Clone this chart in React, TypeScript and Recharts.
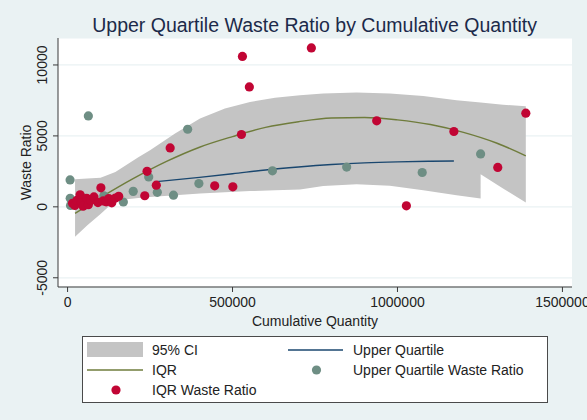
import {
  ComposedChart,
  XAxis,
  YAxis,
  CartesianGrid,
  Area,
  Line,
  Scatter,
} from "recharts";

const FONT = '"Liberation Sans", Arial, Helvetica, sans-serif';

const BG = "#eaf2f3";
const NAVY = "#1a476f";
const OLIVE = "#6f7c3c";
const TEAL = "#6e8e84";
const CRANBERRY = "#c10534";
const BAND = "#c4c4c4";

// IQR waste ratio observations
const iqrQty = [
  530000, 551000, 527000, 311000, 241000, 269000, 234000, 446000, 501000,
  101000, 739000, 937000, 1171000, 1389000, 1304000, 1027000,
  15000, 22000, 28000, 38000, 42000, 47000, 58000, 63000, 70000, 80000,
  92000, 108000, 117000, 125000, 134000, 145000, 155000,
];
const iqrRatio = [
  10600, 8450, 5100, 4150, 2500, 1530, 780, 1480, 1410,
  1340, 11200, 6060, 5310, 6600, 2780, 70,
  250, 100, 450, 850, 300, 50, 600, 150, 450, 700,
  300, 420, 350, 580, 280, 620, 740,
];

// Upper quartile waste ratio observations
const uqQty = [
  63000, 7600, 8000, 9000, 364000, 246000, 199000, 272000, 321000, 398000,
  621000, 169000, 846000, 1075000, 1252000, 48000, 110000,
];
const uqRatio = [
  6410, 1900, 600, 100, 5470, 2110, 1090, 1020, 820, 1640,
  2540, 340, 2800, 2420, 3730, 620, 780,
];

// quadratic fit on IQR sample
const iqrFitQty = [
  22700, 100000, 200000, 300000, 400000, 500000, 600000, 700000, 800000,
  900000, 1000000, 1100000, 1200000, 1300000, 1389000,
];
const iqrFitRatio = [
  -465, 650, 2000, 3200, 4200, 4950, 5600, 6000, 6260,
  6300, 6130, 5800, 5250, 4500, 3600,
];

// fit on upper quartile sample
const uqFitQty = [
  270000, 400000, 500000, 600000, 700000, 800000, 900000, 1000000, 1100000,
  1171000,
];
const uqFitRatio = [1780, 2080, 2330, 2600, 2810, 2980, 3100, 3170, 3210, 3230];

// 95% confidence band (union of both fits)
const ciQty = [
  22700, 60000, 100000, 145000, 214500, 250000, 325800, 401500, 477000,
  553000, 628800, 704500, 775000, 876000, 977000, 1078000, 1179000, 1252000,
  1252000, 1320000, 1389000,
];
const ciLow = [
  -2110, -1300, -500, 450, 620, 700, 820, 940, 1030,
  1110, 1170, 1225, 1460, 1600, 1480, 1175, 825, 590,
  2300, 1295, 310,
];
const ciHigh = [
  1950, 2000, 2050, 2450, 3500, 3990, 5170, 6225, 6930,
  7390, 7680, 7870, 7985, 8060, 7985, 7820, 7515, 7350,
  7350, 7200, 7090,
];

const xTicks = [0, 500000, 1000000, 1500000];
const yTicks = [-5000, 0, 5000, 10000];

const iqrPoints = iqrQty.map((x, i) => ({ x, y: iqrRatio[i] }));
const uqPoints = uqQty.map((x, i) => ({ x, y: uqRatio[i] }));
const iqrFit = iqrFitQty.map((x, i) => ({ x, y: iqrFitRatio[i] }));
const uqFit = uqFitQty.map((x, i) => ({ x, y: uqFitRatio[i] }));
const ciBand = ciQty.map((x, i) => ({ x, band: [ciLow[i], ciHigh[i]] }));

const dot = (color: string) => (props: any) =>
  <circle cx={props.cx} cy={props.cy} r={4.6} fill={color} />;

const YTick = (props: any) => {
  const { x, y, payload } = props;
  const cx = x - 8.5;
  return (
    <text
      x={cx}
      y={y}
      transform={`rotate(-90, ${cx}, ${y})`}
      textAnchor="middle"
      dominantBaseline="central"
      fontSize={14}
      fontFamily={FONT}
      fill="#222"
    >
      {payload.value}
    </text>
  );
};

function LegendBox() {
  const text = { fontSize: 14, fontFamily: FONT, fill: "#222", dominantBaseline: "central" as const };
  return (
    <div
      style={{
        position: "absolute",
        left: 82,
        top: 336,
        width: 466,
        height: 67,
        boxSizing: "border-box",
        border: "1px solid #4a4a4a",
        background: "#fff",
      }}
    >
      <svg width={464} height={65} style={{ display: "block" }}>
        <rect x={4} y={5} width={56} height={15} fill={BAND} />
        <text x={69} y={13} {...text}>95% CI</text>
        <line x1={4} x2={60} y1={33} y2={33} stroke={OLIVE} strokeWidth={1.5} />
        <text x={69} y={33} {...text}>IQR</text>
        <circle cx={33} cy={53} r={4.6} fill={CRANBERRY} />
        <text x={69} y={53} {...text}>IQR Waste Ratio</text>
        <line x1={205} x2={260} y1={13} y2={13} stroke={NAVY} strokeWidth={1.5} />
        <text x={270} y={13} {...text}>Upper Quartile</text>
        <circle cx={233.5} cy={33} r={4.6} fill={TEAL} />
        <text x={270} y={33} {...text}>Upper Quartile Waste Ratio</text>
      </svg>
    </div>
  );
}

export default function App() {
  return (
    <div
      style={{
        position: "fixed",
        left: 0,
        top: 0,
        width: 587,
        height: 420,
        background: BG,
        fontFamily: FONT,
      }}
    >
      <svg width={587} height={40} style={{ position: "absolute", left: 0, top: 0 }}>
        <text x={314.6} y={32} textAnchor="middle" fontSize={19.5} fontFamily={FONT} fill="#1c2a4a">
          Upper Quartile Waste Ratio by Cumulative Quantity
        </text>
      </svg>

      <div style={{ position: "absolute", left: 0, top: 0 }}>
        <ComposedChart
          width={587}
          height={420}
          margin={{ top: 38, right: 15, left: 0, bottom: 93 }}
        >
          <CartesianGrid vertical={false} stroke={BG} strokeWidth={1.2} fill="#fff" />
          <XAxis
            type="number"
            dataKey="x"
            domain={[-29000, 1529000]}
            ticks={xTicks}
            interval={0}
            height={40}
            tickSize={5}
            tickMargin={5}
            stroke="#3a3a3a"
            tick={{ fontSize: 14, fill: "#222", fontFamily: FONT }}
            label={{
              value: "Cumulative Quantity",
              position: "insideBottom",
              offset: 1.5,
              fontSize: 14,
              fill: "#222",
              fontFamily: FONT,
            }}
          />
          <YAxis
            type="number"
            domain={[-5650, 11900]}
            ticks={yTicks}
            interval={0}
            width={58}
            tickSize={5}
            stroke="#3a3a3a"
            tick={<YTick />}
            label={{
              value: "Waste Ratio",
              angle: -90,
              position: "insideLeft",
              offset: 26,
              fontSize: 14,
              fill: "#222",
              fontFamily: FONT,
              style: { textAnchor: "middle" },
            }}
          />
          <Area
            data={ciBand}
            dataKey="band"
            type="linear"
            fill={BAND}
            fillOpacity={1}
            stroke="none"
            isAnimationActive={false}
          />
          <Line
            data={iqrFit}
            dataKey="y"
            type="monotone"
            stroke={OLIVE}
            strokeWidth={1.4}
            dot={false}
            isAnimationActive={false}
          />
          <Line
            data={uqFit}
            dataKey="y"
            type="monotone"
            stroke={NAVY}
            strokeWidth={1.4}
            dot={false}
            isAnimationActive={false}
          />
          <Scatter data={uqPoints} dataKey="y" shape={dot(TEAL)} isAnimationActive={false} />
          <Scatter data={iqrPoints} dataKey="y" shape={dot(CRANBERRY)} isAnimationActive={false} />
        </ComposedChart>
      </div>

      <LegendBox />
    </div>
  );
}
